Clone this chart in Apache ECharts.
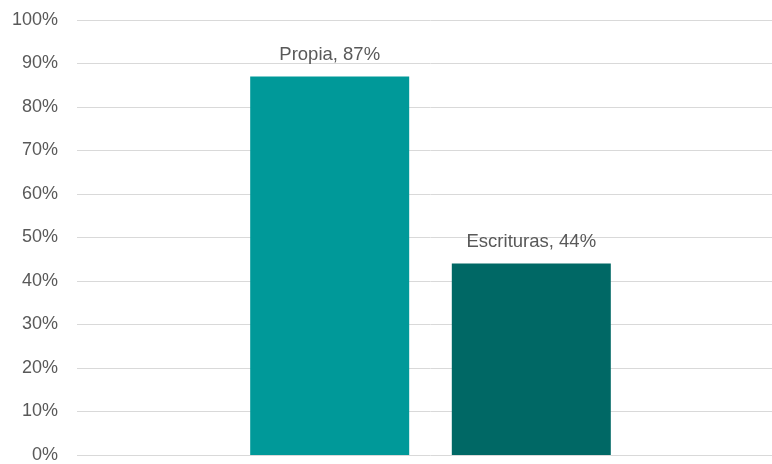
<!DOCTYPE html>
<html>
<head>
<meta charset="utf-8">
<script src="https://cdn.jsdelivr.net/npm/echarts@6/dist/echarts.min.js"></script>
<style>html,body{margin:0;padding:0;background:#fff;overflow:hidden;width:772px;height:464px}#c{width:790px;height:464px}</style>
</head>
<body>
<div id="c"></div>
<script>
const categories = [''];
const seriesNames = ['Propia', 'Escrituras'];
const propiaValues = [87];
const escriturasValues = [44];
const yTicks = [0, 10, 20, 30, 40, 50, 60, 70, 80, 90, 100];

const colors = ['#009999', '#006865'];
const font = 'Liberation Sans';
const chart = echarts.init(document.getElementById('c'));
chart.setOption({
  animation: false,
  grid: { left: 77, right: 6, top: 20, bottom: 9 },
  xAxis: {
    type: 'category', data: categories,
    axisLine: { show: false }, axisTick: { show: false }, axisLabel: { show: false }
  },
  yAxis: {
    type: 'value', min: yTicks[0], max: yTicks[yTicks.length - 1], interval: 10,
    axisLine: { show: false }, axisTick: { show: false },
    axisLabel: { formatter: '{value}%', color: '#595959', fontFamily: font, fontSize: 18, margin: 19 },
    splitLine: { lineStyle: { color: '#D9D9D9', width: 1 } }
  },
  series: [
    {
      name: seriesNames[0], type: 'bar', data: propiaValues, barWidth: 159, barGap: '26.8%',
      itemStyle: { color: colors[0] },
      label: { show: true, position: 'top', distance: 12, formatter: '{a}, {c}%', color: '#595959', fontFamily: font, fontSize: 18.5 }
    },
    {
      name: seriesNames[1], type: 'bar', data: escriturasValues, barWidth: 159,
      itemStyle: { color: colors[1] },
      label: { show: true, position: 'top', distance: 12, formatter: '{a}, {c}%', color: '#595959', fontFamily: font, fontSize: 18.5 }
    }
  ]
});
</script>
</body>
</html>
